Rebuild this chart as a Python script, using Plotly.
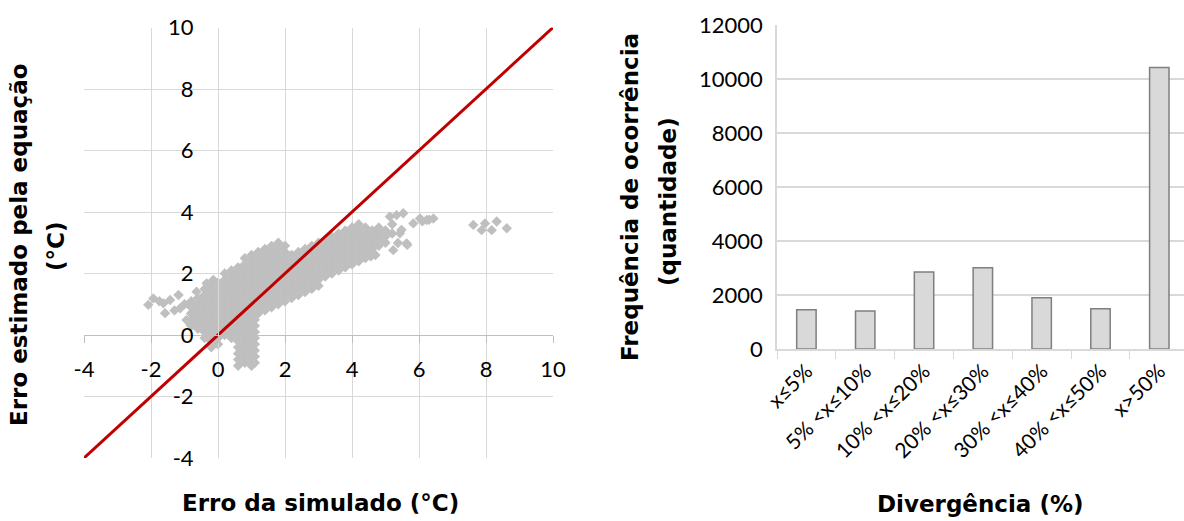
import plotly.graph_objects as go

# ---- Left panel: simulated error vs. error estimated by the equation (°C) ----
# Dense part of the cloud, one column of readings per simulated-error value
cloud_left = [
    (-0.8, [0.3, 0.5, 0.7, 0.9, 1.1]),
    (-0.6, [0.2, 0.4, 0.6, 0.8, 1.0, 1.2]),
    (-0.4, [-0.1, 0.1, 0.3, 0.5, 0.7, 0.9, 1.1, 1.3, 1.5]),
    (-0.2, [-0.4, -0.2, 0.0, 0.2, 0.4, 0.6, 0.8, 1.0, 1.2, 1.4, 1.6]),
    (0.0, [-0.3, -0.1, 0.1, 0.3, 0.5, 0.7, 0.9, 1.1, 1.3, 1.5, 1.7]),
    (0.2, [0.0, 0.2, 0.4, 0.6, 0.8, 1.0, 1.2, 1.4, 1.6, 1.8, 2.0]),
    (0.4, [-0.1, 0.1, 0.3, 0.5, 0.7, 0.9, 1.1, 1.3, 1.5, 1.7, 1.9, 2.1]),
]
cloud_stalk = [
    (0.6, [-1.0, -0.8, -0.6, -0.4, -0.2, 0.0, 0.2, 0.4, 0.6, 0.8, 1.0, 1.2, 1.4, 1.6, 1.8, 2.0, 2.2]),
    (0.8, [-0.9, -0.7, -0.5, -0.3, -0.1, 0.1, 0.3, 0.5, 0.7, 0.9, 1.1, 1.3, 1.5, 1.7, 1.9, 2.1, 2.3, 2.5]),
    (1.0, [-1.0, -0.8, -0.6, -0.4, -0.2, 0.0, 0.2, 0.4, 0.6, 0.8, 1.0, 1.2, 1.4, 1.6, 1.8, 2.0, 2.2, 2.4, 2.6]),
    (1.1, [-0.9, -0.7, -0.5, -0.3, -0.1, 0.1, 0.3, 0.5]),
    (1.2, [0.7, 0.9, 1.1, 1.3, 1.5, 1.7, 1.9, 2.1, 2.3, 2.5, 2.7]),
]
cloud_mid = [
    (1.4, [0.8, 1.0, 1.2, 1.4, 1.6, 1.8, 2.0, 2.2, 2.4, 2.6, 2.8]),
    (1.6, [0.9, 1.1, 1.3, 1.5, 1.7, 1.9, 2.1, 2.3, 2.5, 2.7, 2.9]),
    (1.8, [1.0, 1.2, 1.4, 1.6, 1.8, 2.0, 2.2, 2.4, 2.6, 2.8, 3.0]),
    (2.0, [1.1, 1.3, 1.5, 1.7, 1.9, 2.1, 2.3, 2.5, 2.7, 2.9]),
    (2.2, [1.2, 1.4, 1.6, 1.8, 2.0, 2.2, 2.4, 2.6]),
    (2.4, [1.3, 1.5, 1.7, 1.9, 2.1, 2.3, 2.5, 2.7]),
    (2.6, [1.4, 1.6, 1.8, 2.0, 2.2, 2.4, 2.6, 2.8]),
    (2.8, [1.5, 1.7, 1.9, 2.1, 2.3, 2.5, 2.7, 2.9]),
    (3.0, [1.6, 1.8, 2.0, 2.2, 2.4, 2.6, 2.8, 3.0]),
]
cloud_right = [
    (3.2, [1.9, 2.1, 2.3, 2.5, 2.7, 2.9, 3.1]),
    (3.4, [2.0, 2.2, 2.4, 2.6, 2.8, 3.0, 3.2]),
    (3.6, [2.1, 2.3, 2.5, 2.7, 2.9, 3.1, 3.3]),
    (3.8, [2.2, 2.4, 2.6, 2.8, 3.0, 3.2, 3.4]),
    (4.0, [2.3, 2.5, 2.7, 2.9, 3.1, 3.3, 3.5]),
    (4.2, [2.4, 2.6, 2.8, 3.0, 3.2, 3.4, 3.6]),
    (4.4, [2.5, 2.7, 2.9, 3.1, 3.3, 3.5]),
    (4.6, [2.6, 2.8, 3.0, 3.2, 3.4]),
    (4.8, [2.9, 3.1, 3.3, 3.5]),
    (5.0, [3.0, 3.2, 3.4]),
]
# Isolated readings around the cloud
outlier_x = [-2.08, -1.93, -1.75, -1.63, -1.43, -1.18, -1.58, -1.3, -1.13, -1.0, -0.94,
             -0.8, -0.79, -0.64, -0.64, -0.8, -0.34, -0.14,
             4.56, 4.7, 5.13, 5.2, 5.2, 5.23, 5.33, 5.37, 5.43, 5.48, 5.53, 5.63, 5.65,
             5.83, 6.03, 6.1, 6.23, 6.3, 6.43,
             7.62, 7.87, 7.97, 8.17, 8.32, 8.62]
outlier_y = [0.98, 1.19, 1.1, 1.03, 1.14, 1.30, 0.71, 0.8, 0.87, 1.0, 0.49,
             0.7, 0.98, 1.41, 0.38, 0.3, 1.68, 1.79,
             2.56, 2.6, 3.85, 3.3, 3.6, 2.76, 3.9, 2.99, 3.31, 3.42, 3.96, 2.98, 2.93,
             3.63, 3.79, 3.7, 3.74, 3.75, 3.79,
             3.58, 3.41, 3.63, 3.41, 3.69, 3.47]

# Reference line (estimated = simulated)
identity_x = [-4, 10]
identity_y = [-4, 10]

# Axis ticks of the scatter panel
axis_ticks = [-4, -2, 0, 2, 4, 6, 8, 10]
axis_tick_text = ["-4", "-2", "0", "2", "4", "6", "8", "10"]

# ---- Right panel: divergence histogram ----
categories = ["x≤5%", "5% <x≤10%", "10% <x≤20%", "20% <x≤30%",
              "30% <x≤40%", "40% <x≤50%", "x>50%"]
counts = [1450, 1405, 2850, 3010, 1900, 1490, 10430]

sim_err, est_err = [], []
for group in (cloud_left, cloud_stalk, cloud_mid, cloud_right):
    for xv, ys in group:
        for yv in ys:
            sim_err.append(xv)
            est_err.append(yv)
sim_err += outlier_x
est_err += outlier_y

W, H = 1184, 521
def px(x):
    return x / W
def py(y):
    return (H - y) / H

TICK_FONT = dict(family="Lato, DejaVu Sans, sans-serif", size=22, color="#000000")
TITLE_FONT = dict(family="DejaVu Sans, sans-serif", size=23, color="#000000")
GRID = "#D9D9D9"

fig = go.Figure()
fig.add_trace(go.Scatter(
    x=sim_err, y=est_err, mode="markers",
    marker=dict(symbol="diamond", size=8, color="#BFBFBF", line=dict(width=0)),
    xaxis="x", yaxis="y", showlegend=False, hoverinfo="skip"))
fig.add_trace(go.Scatter(
    x=identity_x, y=identity_y, mode="lines",
    line=dict(color="#C00000", width=3),
    xaxis="x", yaxis="y", showlegend=False, hoverinfo="skip"))
fig.add_trace(go.Bar(
    x=categories, y=counts, width=0.33,
    marker=dict(color="#D9D9D9", line=dict(color="#7F7F7F", width=1.5)),
    xaxis="x2", yaxis="y2", showlegend=False, hoverinfo="skip"))

fig.update_layout(
    width=W, height=H,
    margin=dict(l=0, r=0, t=0, b=0, autoexpand=False),
    paper_bgcolor="white", plot_bgcolor="white",
    xaxis=dict(
        domain=[px(84), px(553)], range=[-4, 10],
        tickmode="array", tickvals=axis_ticks, ticktext=axis_tick_text,
        anchor="free", position=py(335), automargin=False,
        showgrid=True, gridcolor=GRID, gridwidth=1,
        zeroline=False, showline=True, linecolor="#BFBFBF", linewidth=1,
        ticks="outside", ticklen=7, tickcolor="#BFBFBF",
        tickfont=TICK_FONT, ticklabelstandoff=8),
    yaxis=dict(
        domain=[py(458), py(27.5)], range=[-4, 10],
        tickmode="array", tickvals=axis_ticks, ticktext=axis_tick_text,
        anchor="free", position=px(218), automargin=False,
        showgrid=True, gridcolor=GRID, gridwidth=1,
        zeroline=False, showline=True, linecolor=GRID, linewidth=1,
        ticks="", tickfont=TICK_FONT, ticklabelstandoff=20),
    xaxis2=dict(
        domain=[px(777), 1.0], range=[-0.5, 6.42], anchor="y2", automargin=False,
        type="category", showgrid=False, zeroline=False,
        showline=True, linecolor=GRID, linewidth=1.5,
        ticks="outside", tickson="boundaries", ticklen=8, tickcolor=GRID,
        tickangle=-45, tickfont=dict(family="Lato, DejaVu Sans, sans-serif", size=21, color="#000000")),
    yaxis2=dict(
        domain=[py(349), py(25)], range=[0, 12000], dtick=2000, tickformat="d",
        anchor="x2", automargin=False,
        showgrid=True, gridcolor=GRID, gridwidth=1.5, zeroline=False,
        showline=True, linecolor=GRID, linewidth=1.5,
        ticks="", tickfont=TICK_FONT, ticklabelstandoff=8),
)

annotations = [
    dict(text="<b>Erro da simulado (°C)</b>", x=px(320), y=py(503)),
    dict(text="<b>Erro estimado pela equação</b>", x=px(19), y=py(245), textangle=-90),
    dict(text="<b>(°C)</b>", x=px(56), y=py(247), textangle=-90),
    dict(text="<b>Frequência de ocorrência</b>", x=px(630), y=py(197), textangle=-90),
    dict(text="<b>(quantidade)</b>", x=px(668), y=py(202), textangle=-90),
    dict(text="<b>Divergência (%)</b>", x=px(980), y=py(504)),
]
for a in annotations:
    fig.add_annotation(xref="paper", yref="paper", showarrow=False,
                       xanchor="center", yanchor="middle", font=TITLE_FONT, **a)

fig.write_html("out.html")
